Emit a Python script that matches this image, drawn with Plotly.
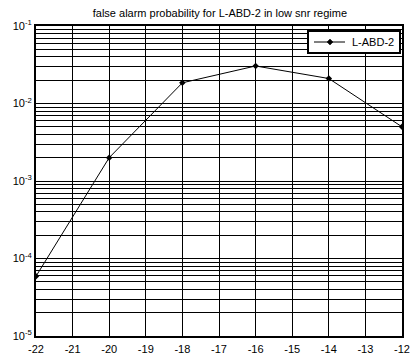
import plotly.graph_objects as go

snr_db = [-22, -20, -18, -16, -14, -12]
p_fa = [5.9e-5, 2.0e-3, 1.85e-2, 3.05e-2, 2.1e-2, 5.0e-3]
x_ticks = list(range(-22, -11))
decades = [-5, -4, -3, -2, -1]
series_name = "L-ABD-2"

major_vals = [10.0 ** d for d in decades]
major_text = [f"10<sup>{d}</sup>" for d in decades]
minor_vals = [m * 10.0 ** d for d in decades[:-1] for m in range(2, 10)]

fig = go.Figure()
fig.add_trace(go.Scatter(
    x=snr_db, y=p_fa, mode="lines+markers", name=series_name,
    line=dict(color="black", width=1),
    marker=dict(symbol="diamond", size=5, color="black"),
    showlegend=False,
))

# MATLAB-style compact legend box (plot-area paper coordinates)
W, H = 366.0, 310.0
px = lambda p: (p - 36) / W
py = lambda p: 1 - (p - 26) / H
fig.add_shape(type="rect", xref="paper", yref="paper",
              x0=px(308), x1=px(400), y0=py(53), y1=py(31),
              fillcolor="white", line=dict(color="black", width=2), layer="above")
fig.add_shape(type="line", xref="paper", yref="paper",
              x0=px(314), x1=px(345), y0=py(42), y1=py(42),
              line=dict(color="black", width=1), layer="above")
mx, my = px(330), py(42)
dx, dy = 3 / W, 3 / H
fig.add_shape(type="path", xref="paper", yref="paper",
              path=f"M {mx-dx},{my} L {mx},{my+dy} L {mx+dx},{my} L {mx},{my-dy} Z",
              fillcolor="black", line=dict(color="black", width=0.5), layer="above")
fig.add_annotation(xref="paper", yref="paper", x=px(350), y=py(42),
                   text=series_name, showarrow=False, xanchor="left", yanchor="middle",
                   font=dict(size=11, color="black"))

fig.update_layout(
    width=411, height=359,
    margin=dict(l=36, r=9, t=26, b=23),
    paper_bgcolor="white", plot_bgcolor="white",
    font=dict(family="Liberation Sans, Arial, sans-serif", size=11, color="black"),
    title=dict(text="false alarm probability for L-ABD-2 in low snr regime",
               x=0.535, xanchor="center", y=0.975, yanchor="top",
               font=dict(size=11)),
    showlegend=False,
)
fig.update_xaxes(
    range=[-22, -12], tickvals=x_ticks, ticktext=[str(v) for v in x_ticks],
    showgrid=True, gridcolor="black", gridwidth=1,
    showline=True, linecolor="black", linewidth=2, mirror=True,
    ticks="", zeroline=False, ticklabelstandoff=2, automargin=False,
)
fig.update_yaxes(
    type="log", range=[-5, -1], tickvals=major_vals, ticktext=major_text,
    showgrid=True, gridcolor="black", gridwidth=1,
    showline=True, linecolor="black", linewidth=2, mirror=True,
    ticks="", zeroline=False, automargin=False,
    minor=dict(tickvals=minor_vals, showgrid=True, gridcolor="black", gridwidth=1, ticks=""),
)
fig.write_html("out.html", config={"displayModeBar": False},
               post_script="document.body.style.margin='0';document.body.style.overflow='hidden';")
